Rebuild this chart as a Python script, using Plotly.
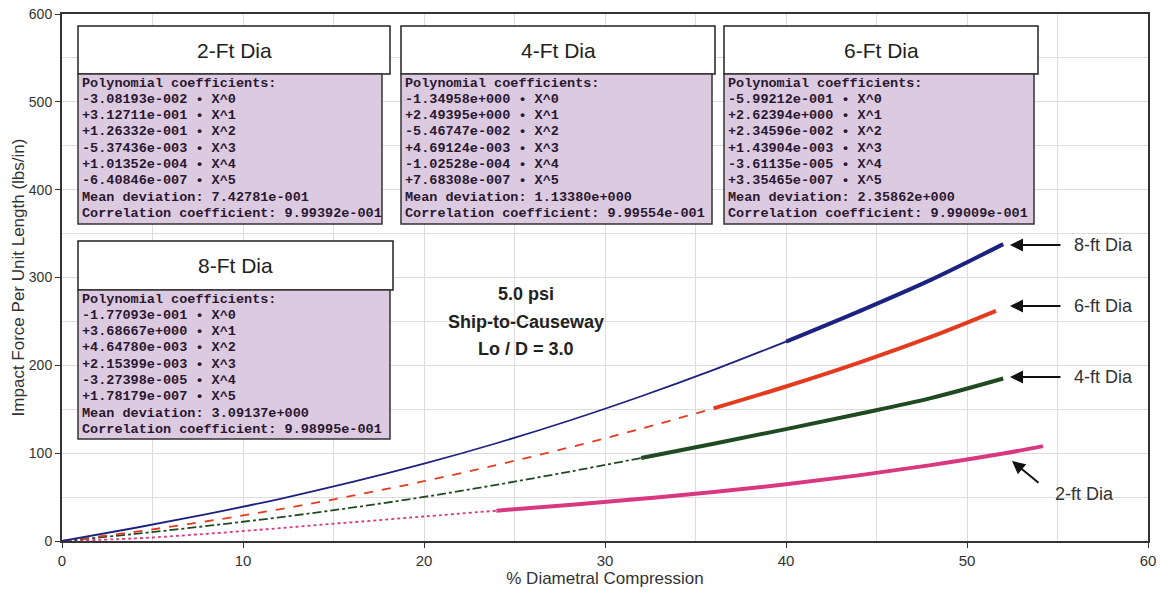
import plotly.graph_objects as go

# % diametral compression vs impact force per unit length (lbs/in)
x_8ft = [0, 4, 8, 12, 16, 20, 24, 28, 32, 36, 40, 44, 48, 52]
y_8ft = [0, 14.8, 30.6, 47.8, 66.9, 88.0, 111.3, 136.9, 164.8, 194.8, 227.0, 261.2, 297.3, 338.0]

x_6ft = [0, 4, 8, 12, 16, 20, 24, 28, 32, 36, 40, 44, 48, 51.6]
y_6ft = [0, 10.4, 22.5, 36.1, 51.3, 68.1, 86.5, 106.4, 127.9, 151.0, 175.9, 202.8, 232.3, 262.0]

x_4ft = [0, 4, 8, 12, 16, 20, 24, 28, 32, 36, 40, 44, 48, 52]
y_4ft = [0, 8.0, 17.1, 26.9, 37.9, 50.2, 64.0, 78.8, 94.5, 110.7, 127.4, 144.6, 162.7, 185.0]

x_2ft = [0, 4, 8, 12, 16, 20, 24, 28, 32, 36, 40, 44, 48, 52, 54.2]
y_2ft = [0, 2.9, 8.2, 14.6, 21.3, 27.9, 34.5, 41.1, 48.0, 55.7, 64.5, 74.7, 86.4, 99.6, 108.0]

box_titles = ["2-Ft Dia", "4-Ft Dia", "6-Ft Dia", "8-Ft Dia"]
coef_2ft = ["-3.08193e-002", "+3.12711e-001", "+1.26332e-001", "-5.37436e-003", "+1.01352e-004", "-6.40846e-007"]
coef_4ft = ["-1.34958e+000", "+2.49395e+000", "-5.46747e-002", "+4.69124e-003", "-1.02528e-004", "+7.68308e-007"]
coef_6ft = ["-5.99212e-001", "+2.62394e+000", "+2.34596e-002", "+1.43904e-003", "-3.61135e-005", "+3.35465e-007"]
coef_8ft = ["-1.77093e-001", "+3.68667e+000", "+4.64780e-003", "+2.15399e-003", "-3.27398e-005", "+1.78179e-007"]
mean_dev = ["7.42781e-001", "1.13380e+000", "2.35862e+000", "3.09137e+000"]
corr_coef = ["9.99392e-001", "9.99554e-001", "9.99009e-001", "9.98995e-001"]

W, H = 1160, 592
L, R, T, B = 62, 12, 14, 51


def px(x):
    return (x - L) / (W - L - R)


def py(y):
    return (H - B - y) / (H - T - B)


fig = go.Figure()

# (x, y, colour, lower style, split index)
series = [
    (x_2ft, y_2ft, "#d8387f", "dot", 6),
    (x_4ft, y_4ft, "#1f4a22", "dashdot", 8),
    (x_6ft, y_6ft, "#e43a1e", "dash", 9),
    (x_8ft, y_8ft, "#1c2280", "solid", 10),
]
for xs, ys, col, dash, k in series:
    fig.add_trace(go.Scatter(x=xs[:k + 1], y=ys[:k + 1], mode="lines", line_shape="spline",
                             line=dict(color=col, width=1.8, dash=dash), showlegend=False))
    fig.add_trace(go.Scatter(x=xs[k:], y=ys[k:], mode="lines", line_shape="spline",
                             line=dict(color=col, width=4), showlegend=False))

shapes = []
annotations = []
title_boxes = [(78, 26, 390, 74), (401, 26, 715, 74), (724, 26, 1038, 74), (78, 241, 393, 290)]
body_boxes = [(78, 74, 382, 224), (401, 74, 712, 224), (724, 74, 1034, 224), (78, 290, 390, 439)]
coefs = [coef_2ft, coef_4ft, coef_6ft, coef_8ft]

for i in range(4):
    x0, y0, x1, y1 = title_boxes[i]
    shapes.append(dict(type="rect", xref="paper", yref="paper", x0=px(x0), x1=px(x1), y0=py(y1), y1=py(y0),
                       fillcolor="white", line=dict(color="#222", width=1.5), layer="above"))
    annotations.append(dict(x=px((x0 + x1) / 2), y=py((y0 + y1) / 2), xref="paper", yref="paper",
                            xanchor="center", yanchor="middle", text=box_titles[i], showarrow=False,
                            font=dict(family="Liberation Sans, Arial", size=21, color="#222")))
    x0, y0, x1, y1 = body_boxes[i]
    shapes.append(dict(type="rect", xref="paper", yref="paper", x0=px(x0), x1=px(x1), y0=py(y1), y1=py(y0),
                       fillcolor="#dccae0", line=dict(color="#333", width=1.5), layer="above"))
    lines = ["Polynomial coefficients:"]
    lines += [c + " \u2022 X^" + str(j) for j, c in enumerate(coefs[i])]
    lines += ["Mean deviation: " + mean_dev[i], "Correlation coefficient: " + corr_coef[i]]
    for j, t in enumerate(lines):
        annotations.append(dict(x=px(x0 + 2), y=py(y0 + 9 + j * 16.3), xref="paper", yref="paper",
                                xanchor="left", yanchor="middle", text=t, showarrow=False,
                                font=dict(family="Liberation Mono", size=13.5, color="#2a1830", weight="bold")))

for t, yy in zip(["5.0 psi", "Ship-to-Causeway", "Lo / D = 3.0"], [294, 322, 349]):
    annotations.append(dict(x=px(526), y=py(yy), xref="paper", yref="paper", xanchor="center",
                            yanchor="middle", text="<b>" + t + "</b>", showarrow=False,
                            font=dict(family="Liberation Sans, Arial", size=18, color="#222")))

# labels with arrows on the right
for t, tx, ty, ax0, ay0, ax1, ay1 in [("8-ft Dia", 1072, 245, 1062, 245, 1010, 245),
                                      ("6-ft Dia", 1072, 306, 1062, 306, 1010, 306),
                                      ("4-ft Dia", 1072, 377, 1062, 377, 1010, 377),
                                      ("2-ft Dia", 1053, 494, 1040, 484, 1012, 461)]:
    annotations.append(dict(x=px(tx), y=py(ty), xref="paper", yref="paper", xanchor="left",
                            yanchor="middle", text=t, showarrow=False,
                            font=dict(family="Liberation Sans, Arial", size=18, color="#333")))
    annotations.append(dict(x=px(ax1), y=py(ay1), xref="paper", yref="paper", text="", showarrow=True,
                            ax=ax0 - ax1, ay=ay0 - ay1, arrowhead=2, arrowsize=1.3, arrowwidth=2,
                            arrowcolor="#111"))

fig.update_layout(
    width=W, height=H,
    margin=dict(l=L, r=R, t=T, b=B),
    paper_bgcolor="white", plot_bgcolor="white",
    font=dict(family="Liberation Sans, Arial", color="#333"),
    shapes=shapes, annotations=annotations,
    xaxis=dict(range=[0, 60], dtick=10, showgrid=True, gridcolor="#dcdcdc", gridwidth=1,
               minor=dict(dtick=5, showgrid=True, gridcolor="#dcdcdc"), automargin=False,
               showline=True, linecolor="#333", linewidth=2, mirror=True, ticks="outside", ticklen=5,
               tickcolor="#333", zeroline=False, tickfont=dict(size=15),
               title=dict(text="% Diametral Compression", font=dict(size=17), standoff=2)),
    yaxis=dict(range=[0, 600], dtick=100, showgrid=True, gridcolor="#dcdcdc", gridwidth=1,
               minor=dict(dtick=50, showgrid=True, gridcolor="#dcdcdc"), automargin=False,
               showline=True, linecolor="#333", linewidth=2, mirror=True, ticks="outside", ticklen=5,
               tickcolor="#333", zeroline=False, tickfont=dict(size=14),
               title=dict(text="Impact Force Per Unit Length (lbs/in)", font=dict(size=17), standoff=0)),
)

# drop the page's default body margin so the chart sits at the window's top-left corner
fig.write_html("out.html", config={"displayModeBar": False},
               post_script="document.body.style.margin='0';")
